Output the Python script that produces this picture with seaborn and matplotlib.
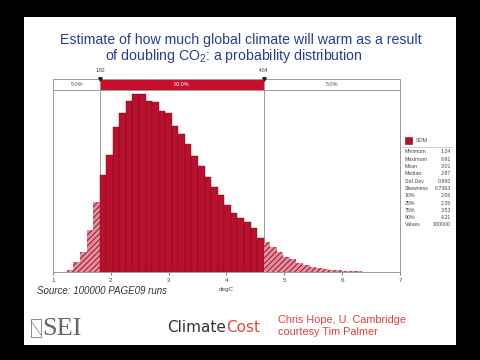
import numpy as np
import pandas as pd
import seaborn as sns
import matplotlib.pyplot as plt
from matplotlib.patches import Rectangle
from matplotlib.lines import Line2D

# histogram: 50 bins between min and max
bin_lo, bin_hi, n_bins = 1.24, 6.91, 50
counts = [63, 315, 631, 1325, 2208, 3028, 3659, 4542, 4984, 5362,
          5583, 5583, 5362, 5331, 5047, 4984, 4574, 4321, 4006, 3627,
          3312, 2965, 2681, 2429, 2113, 1861, 1703, 1577, 1388, 1072,
          946, 789, 631, 473, 410, 284, 221, 158, 126, 95,
          63, 63, 32, 32, 16, 9, 6, 3, 2, 1]
p5, p95 = 1.82, 4.64
band_labels = ["5.0%", "90.0%", "5.0%"]
stat_names = ["Minimum", "Maximum", "Mean", "Median", "Std Dev", "Skewness",
              "10%", "25%", "75%", "90%", "Values"]
stat_vals = ["1.24", "6.91", "3.01", "2.87", "0.860", "0.7363",
             "2.06", "2.35", "3.53", "4.21", "100000"]
xticks = [1, 2, 3, 4, 5, 6, 7]

sns.set_style("white")
plt.rcParams['font.family'] = ['Liberation Sans', 'DejaVu Sans']
plt.rcParams['mathtext.default'] = 'regular'
plt.rcParams['hatch.linewidth'] = 0.7

W, H = 480, 360
fig = plt.figure(figsize=(4.8, 3.6), dpi=100, facecolor='black')


def fx(x):
    return x / W


def fy(y):
    return 1 - y / H


# white slide on black frame
fig.patches.append(Rectangle((fx(24), fy(345)), fx(456) - fx(24), fy(17) - fy(345),
                             transform=fig.transFigure, facecolor='white',
                             edgecolor='none', zorder=-5))

red = '#b8112d'
grey = '#9a9a9a'

edges = np.linspace(bin_lo, bin_hi, n_bins + 1)
df = pd.DataFrame({'x': (edges[:-1] + edges[1:]) / 2, 'w': counts})

ax = fig.add_axes([fx(53), fy(272), (400 - 53) / W, (272 - 90) / H])
ax.axvline(p5, color=grey, lw=0.7, zorder=0)
ax.axvline(p95, color=grey, lw=0.7, zorder=0)
sns.histplot(data=df, x='x', weights='w', bins=edges.tolist(), color=red,
             edgecolor='#7d0a1d', linewidth=0.3, alpha=1, ax=ax)

# tails outside the 90% band are hatched
for p in ax.patches:
    c = p.get_x() + p.get_width() / 2
    if c < p5 or c > p95:
        p.set_facecolor('#e2909e')
        p.set_edgecolor('#a80e28')
        p.set_hatch('//////')
        p.set_linewidth(0)

ax.set_xlim(1, 7)
ax.set_ylim(0, 5710)
ax.set_yticks([])
ax.set_ylabel('')
ax.set_xticks(xticks)
ax.tick_params(axis='x', bottom=True, labelsize=4.5, colors='#444', length=2,
               width=0.5, pad=2.5)
ax.set_xlabel('degC', fontsize=4.5, color='#444', labelpad=3)
for s in ax.spines.values():
    s.set_color(grey)
    s.set_linewidth(0.7)

# percentile band on top
band = fig.add_axes([fx(53), fy(90), (400 - 53) / W, 11 / H])
band.set_xlim(1, 7)
band.set_ylim(0, 1)
band.set_axis_off()
lefts = [1, p5, p95]
widths = [p5 - 1, p95 - p5, 7 - p95]
band.barh(0.5, widths, left=lefts, height=1, color=['white', '#c8102e', 'white'],
          edgecolor=grey, linewidth=0.7, clip_on=False)
for l, w, t, col in zip(lefts, widths, band_labels, ['#555', 'white', '#555']):
    band.text(l + w / 2, 0.5, t, ha='center', va='center', fontsize=4, color=col)
band.plot([p5, p95], [1, 1], marker='v', color='#222', ms=2.5, ls='none', clip_on=False)
for v in [p5, p95]:
    band.text(v, 1.8, f"{v:.2f}", ha='center', va='center', fontsize=3.5, color='#333')

# stats panel
fig.patches.append(Rectangle((fx(405), fy(144)), 7 / W, 7 / H, transform=fig.transFigure,
                             facecolor=red, edgecolor='#7d0a1d', lw=0.4))
fig.text(fx(416), fy(140.5), 'SOM', fontsize=3.8, color='#444', va='center')
fig.add_artist(Line2D([fx(401), fx(452)], [fy(147), fy(147)], color='#bbbbbb', lw=0.5))
for i, (n, v) in enumerate(zip(stat_names, stat_vals)):
    yy = fy(151.7 + i * 7.33)
    fig.text(fx(405), yy, n, fontsize=3.8, color='#444', va='center')
    fig.text(fx(451), yy, v, fontsize=3.8, color='#444', va='center', ha='right')

# titles and captions
title_col = '#2b3b96'
fig.text(fx(241), fy(40), 'Estimate of how much global climate will warm as a result',
         ha='center', va='center', fontsize=10.2, color=title_col)
fig.text(fx(234), fy(56), 'of doubling CO$_2$: a probability distribution',
         ha='center', va='center', fontsize=10.2, color=title_col)
fig.text(fx(37), fy(291), 'Source: 100000 PAGE09 runs', style='italic', fontsize=7,
         color='#333', va='center')

# logos
fig.patches.append(Rectangle((fx(31), fy(337)), 10 / W, 18 / H, transform=fig.transFigure,
                             facecolor='none', edgecolor='#777', lw=0.6))
fig.add_artist(Line2D([fx(31), fx(41)], [fy(321), fy(335)], color='#777', lw=0.5))
fig.text(fx(42), fy(329), 'SEI', family='Liberation Serif', fontsize=19, color='#666',
         va='center')
fig.text(fx(225.7), fy(328), 'Climate', ha='right', va='center', fontsize=11,
         color='#333', family='DejaVu Sans')
fig.text(fx(225.7), fy(328), 'Cost', ha='left', va='center', fontsize=11,
         color='#e8463c', family='DejaVu Sans')
fig.text(fx(278), fy(320), 'Chris Hope, U. Cambridge', fontsize=7.8, color='#e0403a',
         va='center')
fig.text(fx(278), fy(332), 'courtesy Tim Palmer', fontsize=7.8, color='#e0403a',
         va='center')

fig.savefig('out.png', dpi=100, facecolor=fig.get_facecolor())
plt.close()
